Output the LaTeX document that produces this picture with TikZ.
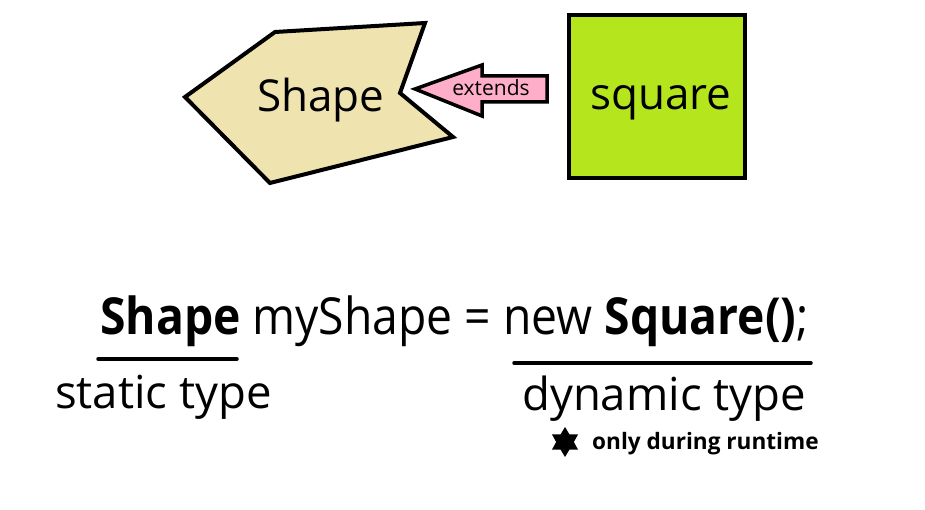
\documentclass[tikz,border=0pt]{standalone}
\usepackage{fontspec}
\setmainfont{Open Sans}
\usetikzlibrary{shapes.geometric}
\definecolor{shapefill}{HTML}{EFE4B0}
\definecolor{arrowfill}{HTML}{FFAEC9}
\definecolor{squarefill}{HTML}{B5E61D}
\tikzset{
  outline/.style={draw=black, line width=4pt, line join=miter},
  lbl/.style={inner sep=0pt, anchor=base west},
  bar/.style={line width=3.5pt, line cap=round},
}
\begin{document}
\begin{tikzpicture}[x=1pt,y=-1pt]
\useasboundingbox (0,0) rectangle (925,510);
% Shape polygon
\draw[outline, fill=shapefill] (185,97) -- (275,32) -- (425,23) -- (400,93) -- (453,137) -- (270,183) -- cycle;
\node[lbl, font=\fontsize{44}{50}\selectfont] (shapetxt) at (257,112) {Shape};
% square
\node[outline, fill=squarefill, minimum width=176pt, minimum height=163pt, inner sep=0pt] (sq) at (657,96.5) {};
\node[lbl, font=\fontsize{44}{50}\selectfont] (sqtxt) at (590,110) {square};
% extends arrow
\draw[outline, line width=3.5pt, fill=arrowfill] (415,89) -- (482,65) -- (482,76) -- (547,76) -- (547,102) -- (482,102) -- (482,116) -- cycle;
\node[inner sep=0pt, font=\fontsize{21}{24}\selectfont] (ext) at (491,88) {extends};
% main line
\node[lbl, font=\fontsize{51}{56}\selectfont] (code) at (100,334) {\scalebox{0.907}[1]{\textbf{Shape} myShape = new \textbf{Square()};}};
\coordinate (u1a) at (98,359);
\coordinate (u1b) at (237,359);
\draw[bar] (u1a) -- (u1b);
\coordinate (u2a) at (514,363);
\coordinate (u2b) at (811,363);
\draw[bar] (u2a) -- (u2b);
\node[lbl, font=\fontsize{45.5}{50}\selectfont] (static) at (55,408) {static type};
\node[lbl, font=\fontsize{45.5}{50}\selectfont] (dyn) at (522,410) {dynamic type};
% runtime note
\node[star, star points=6, star point ratio=1.7, fill=black, minimum size=30pt, inner sep=0pt] (starn) at (565,442) {};
\node[lbl, font=\bfseries\fontsize{22.6}{26}\selectfont] (rt) at (592,449) {only during runtime};
\end{tikzpicture}
\end{document}
